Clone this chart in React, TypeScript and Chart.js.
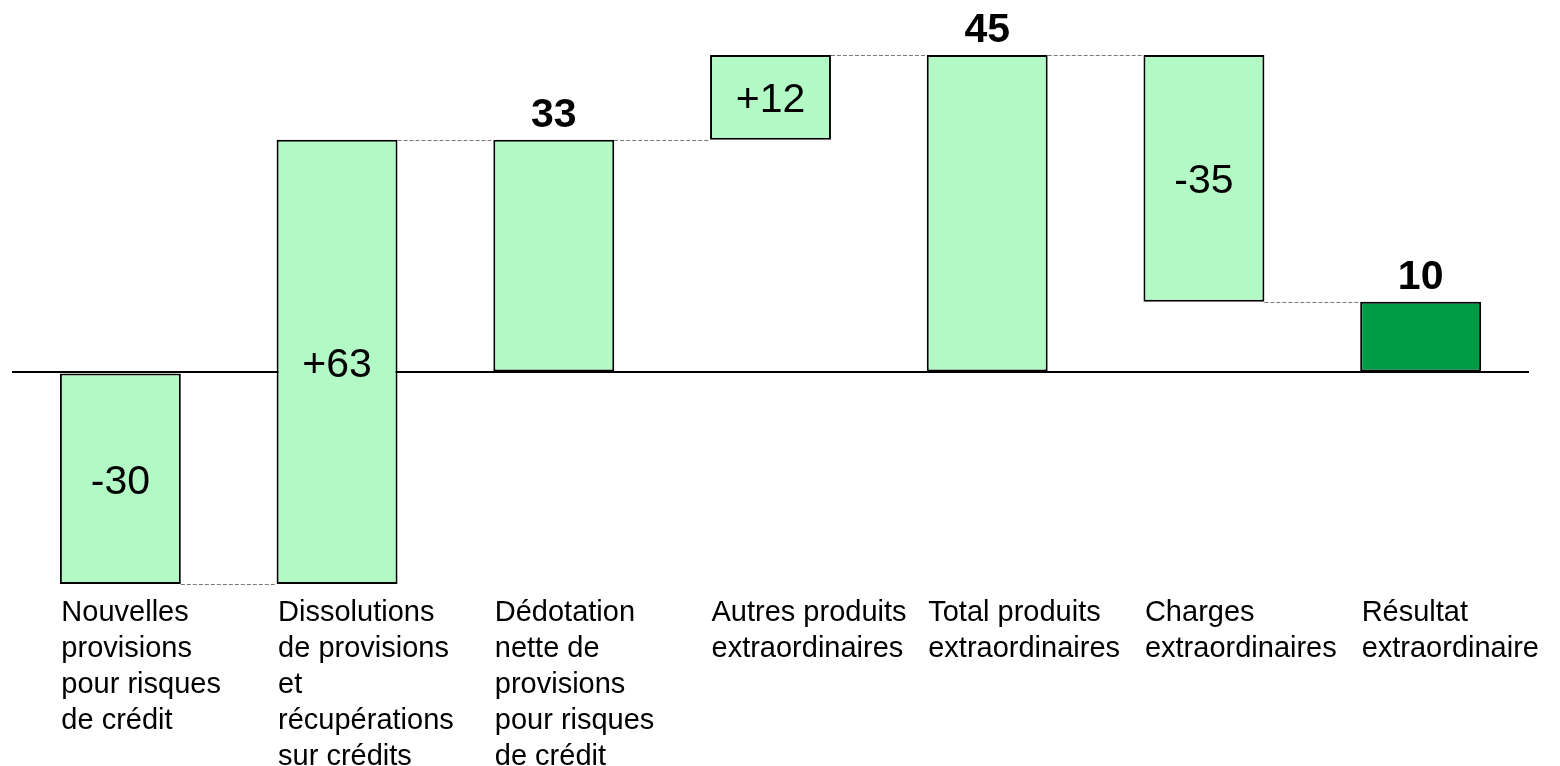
import React, { useEffect, useRef } from 'react';
import { Chart, registerables } from 'chart.js';

Chart.register(...registerables);

// ---- Data ----
const categories: string[][] = [
  ['Nouvelles', 'provisions', 'pour risques', 'de crédit'],
  ['Dissolutions', 'de provisions', 'et', 'récupérations', 'sur crédits'],
  ['Dédotation', 'nette de', 'provisions', 'pour risques', 'de crédit'],
  ['Autres produits', 'extraordinaires'],
  ['Total produits', 'extraordinaires'],
  ['Charges', 'extraordinaires'],
  ['Résultat', 'extraordinaire'],
];
const values: number[] = [-30, 63, 33, 12, 45, -35, 10];
const kinds: string[] = ['delta', 'delta', 'total', 'delta', 'total', 'delta', 'total'];
const yMin = -30;
const yMax = 45;

// ---- Derived ----
const ranges: [number, number][] = [];
{
  let run = 0;
  values.forEach((v, i) => {
    if (kinds[i] === 'total') {
      ranges.push([0, v]);
      run = v;
    } else {
      ranges.push([run, run + v]);
      run += v;
    }
  });
}
const levels = ranges.map((r) => r[1]);
const valueLabels = values.map((v, i) =>
  kinds[i] === 'total' ? String(v) : (v > 0 ? '+' : '') + String(v)
);

const FONT = "'Liberation Sans', Arial, Helvetica, sans-serif";
const LIGHT = '#B3F9C6';
const DARK = '#009B45';
const barColors = values.map((_, i) => (i === values.length - 1 ? DARK : LIGHT));

const waterfallPlugin = {
  id: 'waterfallExtras',
  afterDatasetsDraw(chart: any) {
    const ctx = chart.ctx as CanvasRenderingContext2D;
    const meta = chart.getDatasetMeta(0);
    const y = chart.scales.y;
    ctx.save();
    // connectors
    ctx.strokeStyle = '#7a7a7a';
    ctx.lineWidth = 1;
    ctx.setLineDash([4, 2]);
    for (let i = 0; i < meta.data.length - 1; i++) {
      const a = meta.data[i];
      const b = meta.data[i + 1];
      const py = Math.round(y.getPixelForValue(levels[i])) + 0.5;
      ctx.beginPath();
      ctx.moveTo(a.x + a.width / 2, py);
      ctx.lineTo(b.x - b.width / 2, py);
      ctx.stroke();
    }
    ctx.setLineDash([]);
    // value labels
    ctx.fillStyle = '#000';
    ctx.textAlign = 'center';
    ctx.textBaseline = 'alphabetic';
    meta.data.forEach((el: any, i: number) => {
      if (kinds[i] === 'total') {
        ctx.font = `bold 41px ${FONT}`;
        const top = Math.min(el.y, el.base);
        ctx.fillText(valueLabels[i], el.x, top - 13);
      } else {
        ctx.font = `41px ${FONT}`;
        const mid = (el.y + el.base) / 2;
        ctx.fillText(valueLabels[i], el.x, mid + 15);
      }
    });
    ctx.restore();
  },
};

export default function App() {
  const ref = useRef<HTMLCanvasElement | null>(null);

  useEffect(() => {
    if (!ref.current) return;
    const chart = new Chart(ref.current, {
      type: 'bar',
      data: {
        labels: categories,
        datasets: [
          {
            data: ranges as any,
            backgroundColor: barColors,
            borderColor: '#000',
            borderWidth: 2,
            borderSkipped: false,
            barPercentage: 0.558,
            categoryPercentage: 1,
            clip: false as any,
          },
        ],
      },
      options: {
        responsive: false,
        animation: false,
        events: [],
        layout: { padding: { top: 55, left: 12, right: 31, bottom: 0 } },
        plugins: {
          legend: { display: false },
          tooltip: { enabled: false },
          title: { display: false },
        },
        scales: {
          x: {
            position: 'bottom',
            grid: { display: false, drawTicks: false },
            border: { display: false },
            ticks: {
              autoSkip: false,
              maxRotation: 0,
              minRotation: 0,
              align: 'start',
              labelOffset: -59,
              padding: 11,
              color: '#000',
              font: { family: FONT, size: 29, lineHeight: 36 / 29 },
            },
            afterFit: (s: any) => {
              s.height = 182;
              s.paddingLeft = 0;
              s.paddingRight = 0;
            },
          },
          y: {
            min: yMin,
            max: yMax,
            grid: {
              drawTicks: false,
              color: (c: any) => (c.tick && c.tick.value === 0 ? '#000' : 'rgba(0,0,0,0)'),
              lineWidth: 2,
            },
            border: { display: false },
            ticks: { display: false, stepSize: 15 },
            afterFit: (s: any) => {
              s.width = 0;
            },
          },
        },
      },
      plugins: [waterfallPlugin],
    });
    return () => chart.destroy();
  }, []);

  return (
    <div style={{ position: 'absolute', left: 0, top: 0, width: 1560, height: 766, background: '#fff' }}>
      <canvas ref={ref} width={1560} height={766} style={{ display: 'block' }} />
    </div>
  );
}
